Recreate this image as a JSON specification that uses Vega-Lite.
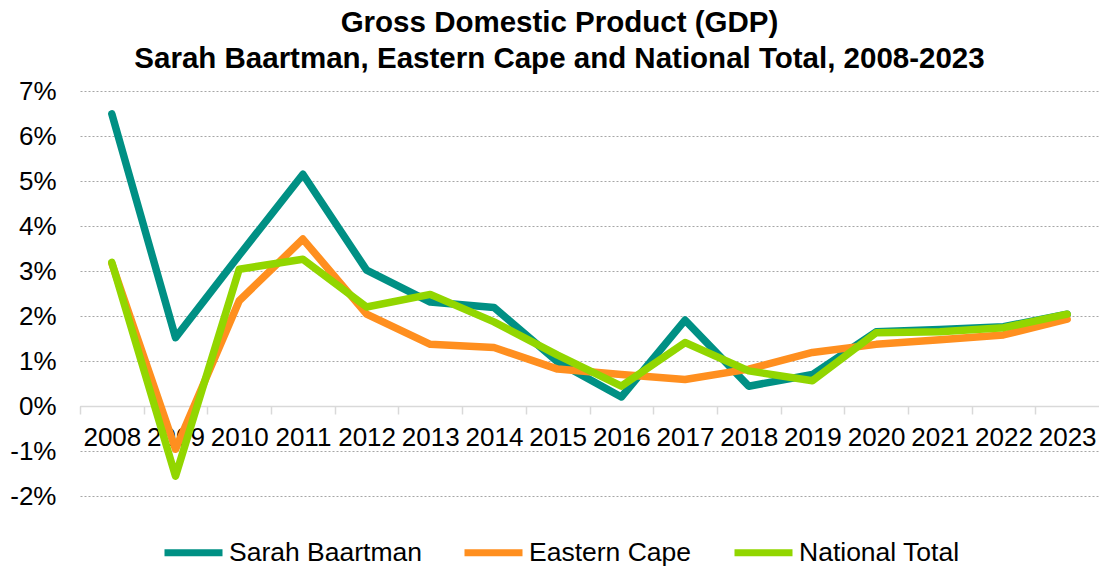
{
  "$schema": "https://vega.github.io/schema/vega-lite/v6.json",
  "width": 1019,
  "height": 405,
  "autosize": {"type": "none"},
  "padding": {"left": 80, "top": 91, "right": 0, "bottom": 71},
  "background": "white",
  "title": {
    "text": ["Gross Domestic Product (GDP)", "Sarah Baartman, Eastern Cape and National Total, 2008-2023"],
    "font": "Liberation Sans",
    "fontSize": 29.5,
    "fontWeight": "bold",
    "color": "#000000",
    "lineHeight": 36,
    "anchor": "middle",
    "frame": "group",
    "dx": -30,
    "offset": 4
  },
  "config": {
    "view": {"stroke": null},
    "font": "Liberation Sans"
  },
  "data": {
    "values": [
      {"year": "2008", "series": "Sarah Baartman", "value": 6.49},
      {"year": "2009", "series": "Sarah Baartman", "value": 1.52},
      {"year": "2010", "series": "Sarah Baartman", "value": 3.35},
      {"year": "2011", "series": "Sarah Baartman", "value": 5.15},
      {"year": "2012", "series": "Sarah Baartman", "value": 3.02},
      {"year": "2013", "series": "Sarah Baartman", "value": 2.31},
      {"year": "2014", "series": "Sarah Baartman", "value": 2.19},
      {"year": "2015", "series": "Sarah Baartman", "value": 0.98},
      {"year": "2016", "series": "Sarah Baartman", "value": 0.2},
      {"year": "2017", "series": "Sarah Baartman", "value": 1.91},
      {"year": "2018", "series": "Sarah Baartman", "value": 0.44},
      {"year": "2019", "series": "Sarah Baartman", "value": 0.7},
      {"year": "2020", "series": "Sarah Baartman", "value": 1.65},
      {"year": "2021", "series": "Sarah Baartman", "value": 1.7},
      {"year": "2022", "series": "Sarah Baartman", "value": 1.76},
      {"year": "2023", "series": "Sarah Baartman", "value": 2.04},
      {"year": "2008", "series": "Eastern Cape", "value": 3.17},
      {"year": "2009", "series": "Eastern Cape", "value": -0.96},
      {"year": "2010", "series": "Eastern Cape", "value": 2.34},
      {"year": "2011", "series": "Eastern Cape", "value": 3.71},
      {"year": "2012", "series": "Eastern Cape", "value": 2.04},
      {"year": "2013", "series": "Eastern Cape", "value": 1.37},
      {"year": "2014", "series": "Eastern Cape", "value": 1.3},
      {"year": "2015", "series": "Eastern Cape", "value": 0.82},
      {"year": "2016", "series": "Eastern Cape", "value": 0.7},
      {"year": "2017", "series": "Eastern Cape", "value": 0.59},
      {"year": "2018", "series": "Eastern Cape", "value": 0.82},
      {"year": "2019", "series": "Eastern Cape", "value": 1.19},
      {"year": "2020", "series": "Eastern Cape", "value": 1.37},
      {"year": "2021", "series": "Eastern Cape", "value": 1.47},
      {"year": "2022", "series": "Eastern Cape", "value": 1.58},
      {"year": "2023", "series": "Eastern Cape", "value": 1.93},
      {"year": "2008", "series": "National Total", "value": 3.19},
      {"year": "2009", "series": "National Total", "value": -1.56},
      {"year": "2010", "series": "National Total", "value": 3.04},
      {"year": "2011", "series": "National Total", "value": 3.26},
      {"year": "2012", "series": "National Total", "value": 2.2},
      {"year": "2013", "series": "National Total", "value": 2.48},
      {"year": "2014", "series": "National Total", "value": 1.87},
      {"year": "2015", "series": "National Total", "value": 1.13},
      {"year": "2016", "series": "National Total", "value": 0.44},
      {"year": "2017", "series": "National Total", "value": 1.41},
      {"year": "2018", "series": "National Total", "value": 0.78},
      {"year": "2019", "series": "National Total", "value": 0.56},
      {"year": "2020", "series": "National Total", "value": 1.63},
      {"year": "2021", "series": "National Total", "value": 1.65},
      {"year": "2022", "series": "National Total", "value": 1.74},
      {"year": "2023", "series": "National Total", "value": 2.04}
    ]
  },
  "mark": {"type": "line", "strokeWidth": 7.5, "strokeCap": "round", "strokeJoin": "round"},
  "encoding": {
    "x": {
      "field": "year",
      "type": "ordinal",
      "scale": {"type": "point", "padding": 0.5},
      "axis": {
        "title": null,
        "offset": -90,
        "labelAngle": 0,
        "labelFont": "Liberation Sans",
        "labelFontSize": 26,
        "labelColor": "#000000",
        "labelPadding": 10,
        "labelFlush": false,
        "labelOverlap": false,
        "tickOffset": -31.84,
        "labelOffset": 31.84,
        "tickSize": 8,
        "tickColor": "#D9D9D9",
        "tickWidth": 1.5,
        "domainColor": "#D9D9D9",
        "domainWidth": 1.5,
        "grid": false
      }
    },
    "y": {
      "field": "value",
      "type": "quantitative",
      "scale": {"domain": [-2, 7], "nice": false, "zero": false},
      "axis": {
        "title": null,
        "values": [-2, -1, 0, 1, 2, 3, 4, 5, 6, 7],
        "labelExpr": "datum.value + '%'",
        "labelFont": "Liberation Sans",
        "labelFontSize": 26,
        "labelColor": "#000000",
        "labelPadding": 24,
        "ticks": false,
        "domain": false,
        "grid": true,
        "gridColor": "#A6A6A6",
        "gridDash": [2, 2],
        "gridWidth": 1
      }
    },
    "color": {
      "field": "series",
      "type": "nominal",
      "sort": ["Sarah Baartman", "Eastern Cape", "National Total"],
      "scale": {
        "domain": ["Sarah Baartman", "Eastern Cape", "National Total"],
        "range": ["#009084", "#FF8F1F", "#92D600"]
      },
      "legend": {
        "title": null,
        "orient": "none",
        "direction": "horizontal",
        "legendX": 81,
        "legendY": 429,
        "symbolType": "stroke",
        "symbolSize": 3364,
        "symbolStrokeWidth": 7,
        "labelFont": "Liberation Sans",
        "labelFontSize": 26.5,
        "labelColor": "#000000",
        "labelOffset": 3,
        "columnPadding": 28,
        "labelLimit": 400
      }
    }
  }
}
